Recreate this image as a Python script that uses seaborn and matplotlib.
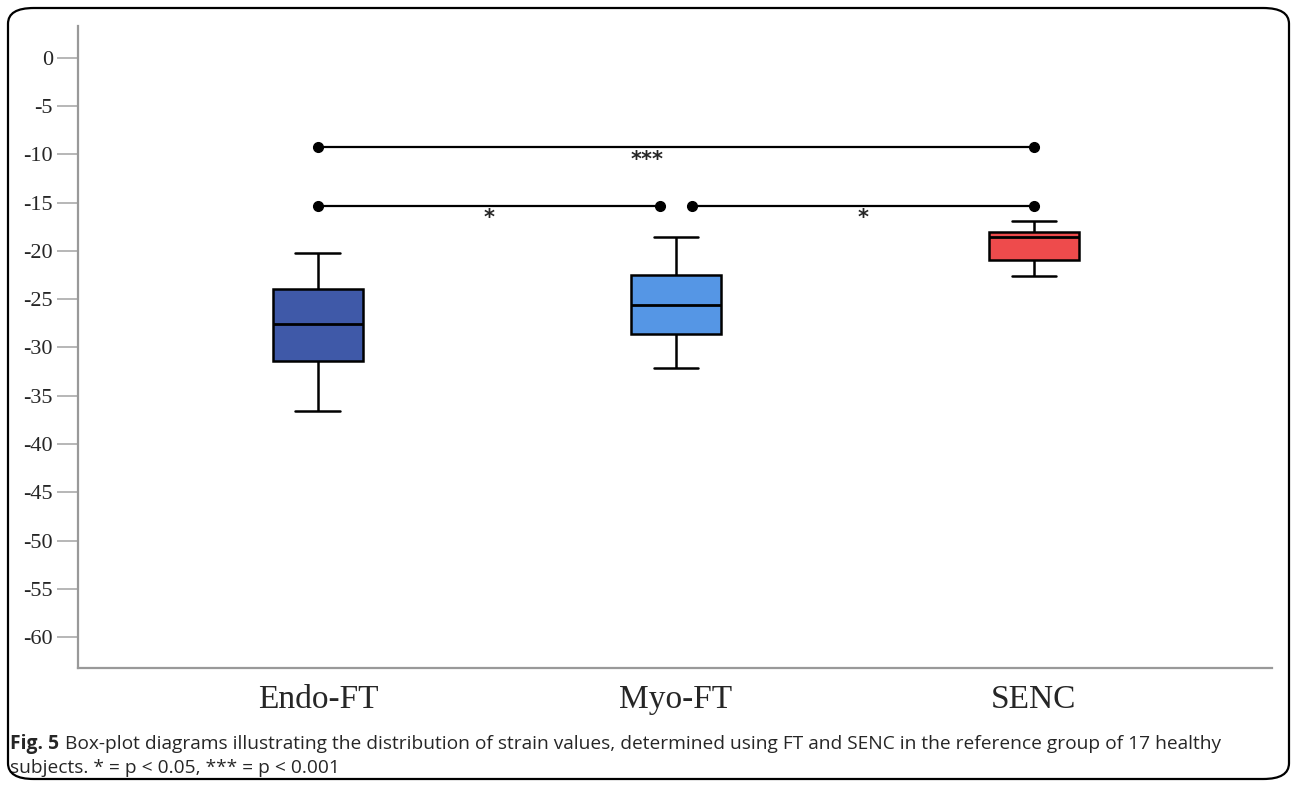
import matplotlib
matplotlib.use("Agg")
import matplotlib.pyplot as plt
import seaborn as sns
import pandas as pd
from matplotlib.patches import FancyBboxPatch

# ---- data (five-number summaries) ----
groups = ["Endo-FT", "Myo-FT", "SENC"]
endo_ft = [-36.6, -31.4, -27.6, -23.9, -20.2]
myo_ft = [-32.1, -28.6, -25.6, -22.5, -18.6]
senc = [-22.6, -20.9, -18.6, -18.0, -16.9]
colors = ["#3F59A8", "#5596E5", "#EE4B4C"]
yticks = [0, -5, -10, -15, -20, -25, -30, -35, -40, -45, -50, -55, -60]
# significance brackets: (left group idx, right group idx, y, label)
brackets = [(0, 2, -9.2, "***"), (0, 1, -15.3, "*"), (1, 2, -15.3, "*")]

df = pd.DataFrame({
    "group": sum([[g] * 5 for g in groups], []),
    "value": endo_ft + myo_ft + senc,
})

sns.set_style("white")
plt.rcParams["font.family"] = ["Liberation Serif", "DejaVu Serif"]

fig = plt.figure(figsize=(12.92, 7.86), dpi=100)
ax = fig.add_axes([78 / 1292, 1 - 668 / 786, (1272 - 78) / 1292, (668 - 26) / 786])

sns.boxplot(data=df, x="group", y="value", hue="group", palette=colors,
            saturation=1, width=0.25, linecolor="black", linewidth=1.8,
            legend=False, whis=1.5, ax=ax,
            medianprops=dict(color="black", linewidth=2.0))

# brackets
for i, j, yv, lab in brackets:
    xi = i + (0.045 if (i == 1) else 0)
    xj = j - (0.045 if (j == 1) else 0)
    ax.plot([xi, xj], [yv, yv], color="black", lw=1.6, marker="o", markersize=7,
            solid_capstyle="butt")
    xm = (xi + xj) / 2 + (-0.08 if lab == "***" else 0)
    ax.text(xm, yv - 0.3, lab, ha="center", va="top", fontsize=15,
            family=["DejaVu Sans"], fontweight="bold")

ax.set_xlim(-0.67, 2.665)
ax.set_ylim(-63.2, 3.3)
ax.set_yticks(yticks)
ax.set_yticklabels([str(t) for t in yticks], fontsize=16)
ax.set_xlabel("")
ax.set_ylabel("")
ax.tick_params(axis="x", length=0, labelsize=24, pad=12)
ax.tick_params(axis="y", length=15, width=1.2, color="#aaaaaa", left=True, pad=3)
for s in ["top", "right"]:
    ax.spines[s].set_visible(False)
for s in ["left", "bottom"]:
    ax.spines[s].set_color("#999999")
    ax.spines[s].set_linewidth(1.6)

# caption
cap_font = ["Open Sans", "DejaVu Sans"]
fig.text(10 / 1292, 1 - 749 / 786, "Fig. 5", fontsize=13.9, fontweight="bold",
         family=cap_font, va="baseline", ha="left")
fig.text(65 / 1292, 1 - 749 / 786,
         "Box-plot diagrams illustrating the distribution of strain values, determined using FT and SENC in the reference group of 17 healthy",
         fontsize=13.8, family=cap_font, va="baseline", ha="left")
fig.text(10 / 1292, 1 - 773 / 786, "subjects. * = p < 0.05, *** = p < 0.001",
         fontsize=13.8, family=cap_font, va="baseline", ha="left")

# rounded frame
frame = FancyBboxPatch((8 / 1292, 7 / 786), (1289 - 8) / 1292, (779 - 8) / 786,
                       boxstyle="round,pad=0,rounding_size=0.02",
                       transform=fig.transFigure, fill=False, edgecolor="black",
                       linewidth=1.6, zorder=10)
fig.patches.append(frame)

fig.savefig("out.png", dpi=100)
